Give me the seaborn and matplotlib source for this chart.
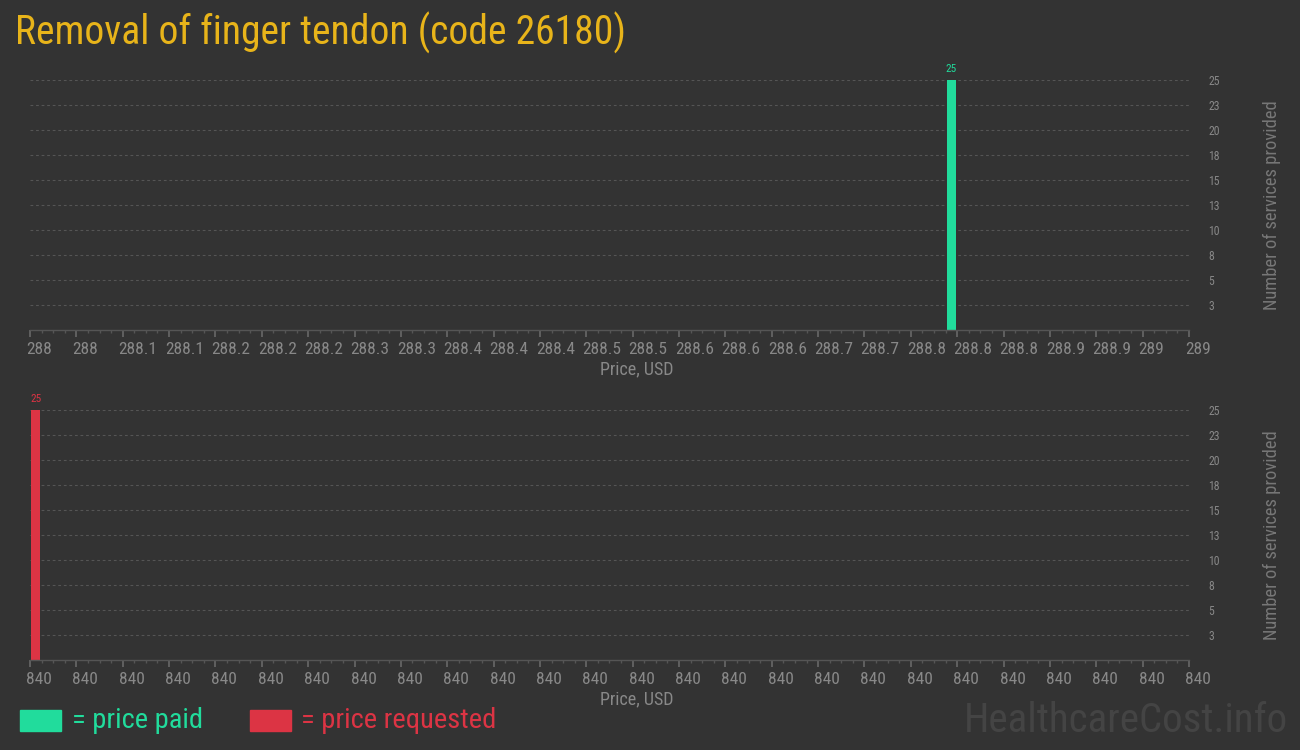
import matplotlib
matplotlib.use("Agg")
import matplotlib.pyplot as plt
import matplotlib.transforms as mtransforms
import seaborn as sns
import pandas as pd
import numpy as np
from matplotlib.ticker import FixedLocator, AutoMinorLocator

# ---- data ----
paid_prices = [288.795]
paid_counts = [25]
requested_prices = [840.0012]
requested_counts = [25]

paid_xticks = [288 + i * 0.04 for i in range(26)]
paid_xticklabels = ["288", "288", "288.1", "288.1", "288.2", "288.2", "288.2", "288.3", "288.3",
                    "288.4", "288.4", "288.4", "288.5", "288.5", "288.6", "288.6", "288.6",
                    "288.7", "288.7", "288.8", "288.8", "288.8", "288.9", "288.9", "289", "289"]
req_xticks = [840 + i * 0.01 for i in range(26)]
req_xticklabels = ["840"] * 26
yticks = [2.5, 5, 7.5, 10, 12.5, 15, 17.5, 20, 22.5, 25]
yticklabels = ["3", "5", "8", "10", "13", "15", "18", "20", "23", "25"]

title = "Removal of finger tendon (code 26180)"

BG = "#333333"
GREEN = "#21dc9c"
RED = "#dc3444"
GOLD = "#e8b41a"
TICK = "#888888"
GRID = "#555555"

sns.set_theme(style="dark")
plt.rcParams["font.family"] = ["Roboto Condensed", "Liberation Sans Narrow", "Roboto", "DejaVu Sans"]
plt.rcParams["figure.facecolor"] = BG
plt.rcParams["axes.facecolor"] = BG

fig = plt.figure(figsize=(13, 7.5), dpi=100)
fig.patch.set_facecolor(BG)

L, R = 30 / 1300, 1189 / 1300
ax1 = fig.add_axes([L, 420 / 750, R - L, 250 / 750])
ax2 = fig.add_axes([L, 90 / 750, R - L, 250 / 750])

def style(ax, prices, counts, color, xticks, xlabels, barw):
    df = pd.DataFrame({"price": prices, "count": counts})
    sns.barplot(data=df, x="price", y="count", native_scale=True, color=color,
                width=barw, saturation=1, ax=ax, linewidth=0, edgecolor=color)
    for c in ax.containers:
        ax.bar_label(c, labels=[str(v) for v in counts], color=color, fontsize=8, padding=4)
    ax.set_xlim(xticks[0], xticks[-1])
    ax.set_ylim(0, 25)
    ax.set_facecolor(BG)
    ax.xaxis.set_major_locator(FixedLocator(xticks))
    ax.set_xticklabels(xlabels)
    ax.xaxis.set_minor_locator(AutoMinorLocator(4))
    ax.tick_params(axis="x", which="major", length=5, color="#666666", labelcolor=TICK,
                   labelsize=12.5, pad=4, bottom=True)
    ax.tick_params(axis="x", which="minor", length=2.5, color="#555555", bottom=True)
    offset = mtransforms.ScaledTranslation(-4 / 100, 0, fig.dpi_scale_trans)
    for lbl in ax.get_xticklabels():
        lbl.set_ha("left")
        lbl.set_transform(lbl.get_transform() + offset)
    ax.yaxis.tick_right()
    ax.yaxis.set_label_position("right")
    ax.set_yticks(yticks)
    ax.set_yticklabels(yticklabels)
    ax.tick_params(axis="y", length=0, labelcolor=TICK, labelsize=8.5, pad=14)
    ax.grid(axis="y", color=GRID, linestyle=(0, (2.5, 2.5)), linewidth=0.8)
    ax.grid(axis="x", visible=False)
    for s in ["top", "left", "right"]:
        ax.spines[s].set_visible(False)
    ax.spines["bottom"].set_color("#555555")
    ax.spines["bottom"].set_linewidth(1)
    ax.set_xlabel("Price, USD", color="#888888", fontsize=13)
    ax.xaxis.set_label_coords((637 - 30) / 1159, -0.12)
    ax.set_ylabel("Number of services provided", color="#777777", fontsize=13.3)
    ax.yaxis.set_label_coords((1263 - 30) / 1159, 0.5)
    ax.set_axisbelow(True)

style(ax1, paid_prices, paid_counts, GREEN, paid_xticks, paid_xticklabels, 0.0078)
style(ax2, requested_prices, requested_counts, RED, req_xticks, req_xticklabels, 0.00195)

fig.text(15 / 1300, 1 - 33 / 750, title, color=GOLD, fontsize=28.5, va="center", ha="left")

# legend
fig.patches.append(matplotlib.patches.Rectangle((20 / 1300, 1 - 731 / 750), 41 / 1300, 21 / 750,
                                                transform=fig.transFigure, color=GREEN))
fig.text(72 / 1300, 1 - 720 / 750, "= price paid", color=GREEN, fontsize=20.5, va="center")
fig.patches.append(matplotlib.patches.Rectangle((250 / 1300, 1 - 731 / 750), 41 / 1300, 21 / 750,
                                                transform=fig.transFigure, color=RED))
fig.text(301 / 1300, 1 - 720 / 750, "= price requested", color=RED, fontsize=20.5, va="center")

fig.text(1288 / 1300, 1 - 720 / 750, "HealthcareCost.info", color="#444444", fontsize=29.5,
         va="center", ha="right")

fig.savefig("out.png", dpi=100, facecolor=BG)
